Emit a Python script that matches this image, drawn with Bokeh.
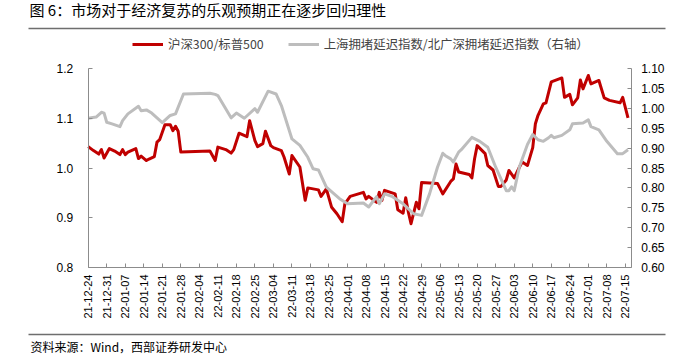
import pandas as pd
import numpy as np
from bokeh.plotting import figure
from bokeh.models import (Range1d, LinearAxis, DatetimeAxis, FixedTicker, DatetimeTickFormatter,
                          NumeralTickFormatter, Legend, LegendItem, Label, Arrow)
from bokeh.embed import file_html
from bokeh.resources import INLINE

title_text = "图 6：市场对于经济复苏的乐观预期正在逐步回归理性"
source_text = "资料来源：Wind，西部证券研发中心"
red_name = "沪深300/标普500"
gray_name = "上海拥堵延迟指数/北广深拥堵延迟指数（右轴）"

red_dates = [
    "2021-12-24", "2021-12-26", "2021-12-28", "2021-12-29", "2021-12-30", "2022-01-01",
    "2022-01-03", "2022-01-05", "2022-01-06", "2022-01-07", "2022-01-08", "2022-01-11",
    "2022-01-12", "2022-01-13", "2022-01-15", "2022-01-16", "2022-01-18", "2022-01-19",
    "2022-01-20", "2022-01-21", "2022-01-22", "2022-01-24", "2022-01-25", "2022-01-26",
    "2022-01-27", "2022-01-28", "2022-02-08", "2022-02-10", "2022-02-11", "2022-02-14",
    "2022-02-16", "2022-02-17", "2022-02-19", "2022-02-22", "2022-02-23", "2022-02-25",
    "2022-02-26", "2022-02-28", "2022-03-01", "2022-03-03", "2022-03-04", "2022-03-07",
    "2022-03-08", "2022-03-10", "2022-03-11", "2022-03-14", "2022-03-16", "2022-03-17",
    "2022-03-21", "2022-03-22", "2022-03-24", "2022-03-26", "2022-03-28", "2022-03-30",
    "2022-03-31", "2022-04-02", "2022-04-07", "2022-04-08", "2022-04-09", "2022-04-12",
    "2022-04-13", "2022-04-14", "2022-04-15", "2022-04-19", "2022-04-20", "2022-04-22",
    "2022-04-23", "2022-04-24", "2022-04-25", "2022-04-27", "2022-04-28", "2022-04-29",
    "2022-05-05", "2022-05-07", "2022-05-10", "2022-05-11", "2022-05-12", "2022-05-13",
    "2022-05-17", "2022-05-18", "2022-05-19", "2022-05-20", "2022-05-23", "2022-05-24",
    "2022-05-26", "2022-05-28", "2022-05-29", "2022-05-31", "2022-06-01", "2022-06-03",
    "2022-06-05", "2022-06-06", "2022-06-08", "2022-06-10", "2022-06-11", "2022-06-12",
    "2022-06-14", "2022-06-15", "2022-06-17", "2022-06-21", "2022-06-22", "2022-06-24",
    "2022-06-25", "2022-06-27", "2022-06-28", "2022-06-29", "2022-07-01", "2022-07-02",
    "2022-07-05", "2022-07-07", "2022-07-09", "2022-07-13", "2022-07-14", "2022-07-16",
]
red_values = [
    1.043, 1.035, 1.028, 1.037, 1.020, 1.039,
    1.034, 1.027, 1.037, 1.027, 1.032, 1.039,
    1.019, 1.024, 1.015, 1.018, 1.023, 1.052,
    1.057, 1.072, 1.087, 1.087, 1.075, 1.084,
    1.074, 1.032, 1.034, 1.015, 1.042, 1.037,
    1.030, 1.037, 1.070, 1.063, 1.095, 1.055,
    1.043, 1.049, 1.074, 1.045, 1.041, 1.035,
    1.022, 0.988, 1.025, 1.002, 0.935, 0.960,
    0.956, 0.943, 0.958, 0.921, 0.908, 0.892,
    0.928, 0.943, 0.951, 0.938, 0.943, 0.931,
    0.951, 0.935, 0.955, 0.948, 0.916, 0.909,
    0.940, 0.911, 0.888, 0.931, 0.918, 0.971,
    0.969, 0.948, 0.973, 0.978, 1.008, 0.992,
    0.987, 0.980, 1.018, 1.045, 1.029, 1.005,
    0.996, 0.963, 0.963, 0.976, 0.995, 0.980,
    1.002, 1.012, 1.005, 1.041, 1.089, 1.106,
    1.129, 1.131, 1.173, 1.181, 1.142, 1.148,
    1.127, 1.141, 1.177, 1.159, 1.186, 1.169,
    1.176, 1.141, 1.136, 1.131, 1.142, 1.101,
]

gray_dates = [
    "2021-12-24", "2021-12-27", "2021-12-29", "2021-12-30", "2021-12-31", "2022-01-02",
    "2022-01-05", "2022-01-06", "2022-01-08", "2022-01-12", "2022-01-13", "2022-01-15",
    "2022-01-17", "2022-01-19", "2022-01-21", "2022-01-24", "2022-01-26", "2022-01-29",
    "2022-02-08", "2022-02-10", "2022-02-11", "2022-02-16", "2022-02-18", "2022-02-21",
    "2022-02-25", "2022-02-26", "2022-03-02", "2022-03-05", "2022-03-07", "2022-03-11",
    "2022-03-14", "2022-03-17", "2022-03-19", "2022-03-21", "2022-03-24", "2022-03-29",
    "2022-04-01", "2022-04-07", "2022-04-09", "2022-04-12", "2022-04-13", "2022-04-15",
    "2022-04-18", "2022-04-22", "2022-04-26", "2022-04-29", "2022-05-02", "2022-05-05",
    "2022-05-07", "2022-05-08", "2022-05-10", "2022-05-11", "2022-05-13", "2022-05-14",
    "2022-05-18", "2022-05-21", "2022-05-24", "2022-05-27", "2022-05-31", "2022-06-01",
    "2022-06-02", "2022-06-03", "2022-06-05", "2022-06-08", "2022-06-10", "2022-06-12",
    "2022-06-14", "2022-06-16", "2022-06-17", "2022-06-18", "2022-06-21", "2022-06-24",
    "2022-06-25", "2022-06-29", "2022-07-01", "2022-07-02", "2022-07-05", "2022-07-08",
    "2022-07-12", "2022-07-14", "2022-07-16",
]
gray_values = [
    0.975, 0.978, 0.990, 0.988, 0.965, 0.961,
    0.954, 0.969, 0.986, 1.005, 0.994, 0.996,
    0.988, 0.976, 0.964, 0.982, 0.986, 1.036,
    1.038, 1.035, 1.032, 0.976, 0.988, 0.975,
    0.999, 0.990, 1.043, 1.036, 1.007, 0.923,
    0.907, 0.877, 0.848, 0.845, 0.802, 0.773,
    0.760, 0.762, 0.752, 0.778, 0.760, 0.785,
    0.778, 0.760, 0.735, 0.731, 0.785, 0.852,
    0.887, 0.881, 0.873, 0.865, 0.890, 0.896,
    0.927, 0.917, 0.902, 0.852, 0.793, 0.793,
    0.803, 0.793, 0.854, 0.909, 0.934, 0.921,
    0.917, 0.926, 0.932, 0.926, 0.932, 0.946,
    0.961, 0.963, 0.971, 0.954, 0.946, 0.917,
    0.886, 0.886, 0.896,
]

tick_dates = [
    "2021-12-24", "2021-12-31", "2022-01-07", "2022-01-14", "2022-01-21", "2022-01-28",
    "2022-02-04", "2022-02-11", "2022-02-18", "2022-02-25", "2022-03-04", "2022-03-11",
    "2022-03-18", "2022-03-25", "2022-04-01", "2022-04-08", "2022-04-15", "2022-04-22",
    "2022-04-29", "2022-05-06", "2022-05-13", "2022-05-20", "2022-05-27", "2022-06-03",
    "2022-06-10", "2022-06-17", "2022-06-24", "2022-07-01", "2022-07-08", "2022-07-15",
]
left_ticks = [0.8, 0.9, 1.0, 1.1, 1.2]
right_ticks = [0.60, 0.65, 0.70, 0.75, 0.80, 0.85, 0.90, 0.95, 1.00, 1.05, 1.10]

x_start, x_stop = "2021-12-24", "2022-07-17 05:00"
left_lim = (0.8, 1.2)
right_lim = (0.6, 1.1)

RED = "#C00000"
GRAY = "#BDBDBD"
AXIS = "#8C8C8C"
RULE = "#6E6E6E"
CJK = "Noto Sans CJK SC"
LAT = "Liberation Sans"

# canvas and plot-area pixel geometry (the frame covers the whole canvas;
# the axes are pinned at the edges of the plot area)
W, H = 685, 355
PL, PR, PT, PB = 87.7, 630.7, 68.0, 267.0


def ms(d):
    return pd.Timestamp(d).timestamp() * 1000.0


xs0, xs1 = ms(x_start), ms(x_stop)
kx = (xs1 - xs0) / (PR - PL)
x_range = Range1d(xs0 - PL * kx, xs1 + (W - PR) * kx)


def ext(lo, hi):
    k = (hi - lo) / (PB - PT)
    return Range1d(lo - (H - PB) * k, hi + PT * k)


p = figure(width=W, height=H, output_backend="svg", toolbar_location=None,
           x_axis_type=None, y_axis_type=None,
           x_range=x_range, y_range=ext(*left_lim),
           min_border_left=0, min_border_right=0, min_border_top=0, min_border_bottom=0)
p.extra_y_ranges = {"right": ext(*right_lim)}
p.outline_line_color = None
p.background_fill_color = "white"
p.border_fill_color = "white"
p.xgrid.visible = False
p.ygrid.visible = False

r1 = p.line([ms(d) for d in red_dates], red_values, line_color=RED, line_width=3,
            line_join="round")
r2 = p.line([ms(d) for d in gray_dates], gray_values, line_color=GRAY, line_width=3,
            line_join="round", y_range_name="right")


def style(ax, size):
    ax.major_tick_in = 4
    ax.major_tick_out = 0
    ax.minor_tick_line_color = None
    ax.axis_line_color = AXIS
    ax.major_tick_line_color = AXIS
    ax.major_label_text_font = LAT
    ax.major_label_text_font_size = size
    ax.major_label_text_color = "#000000"


fmt = "%y-%m-%d"
xa = DatetimeAxis(ticker=FixedTicker(ticks=[ms(d) for d in tick_dates]),
                  formatter=DatetimeTickFormatter(days=fmt, months=fmt, years=fmt, hours=fmt,
                                                  hourmin=fmt, minutes=fmt, minsec=fmt,
                                                  seconds=fmt, milliseconds=fmt,
                                                  microseconds=fmt, context=None),
                  fixed_location=left_lim[0], bounds=(xs0, xs1))
style(xa, "11px")
xa.major_label_orientation = np.pi / 2
xa.major_label_standoff = 7
p.add_layout(xa, "below")

ya = LinearAxis(ticker=FixedTicker(ticks=left_ticks), formatter=NumeralTickFormatter(format="0.0"),
                fixed_location=xs0, bounds=left_lim)
style(ya, "12px")
ya.major_label_standoff = 15
p.add_layout(ya, "left")

ra = LinearAxis(y_range_name="right", ticker=FixedTicker(ticks=right_ticks),
                formatter=NumeralTickFormatter(format="0.00"),
                fixed_location=xs1, bounds=right_lim)
style(ra, "12px")
ra.major_label_standoff = 10
p.add_layout(ra, "right")

legend = Legend(items=[LegendItem(label=red_name, renderers=[r1]),
                       LegendItem(label=gray_name, renderers=[r2])],
                orientation="horizontal", location=(132, H - 37 - 16),
                label_text_font=CJK, label_text_font_size="12.4px",
                glyph_width=31, glyph_height=16, label_height=16, label_standoff=5,
                spacing=24, padding=0, margin=0, border_line_color=None,
                background_fill_alpha=0)
p.add_layout(legend)

# title, rules and source (screen units; the frame is the whole canvas)
p.add_layout(Label(x=29, y=H - 9, x_units="screen", y_units="screen",
                   text=title_text, text_font=CJK, text_font_size="15px",
                   text_baseline="middle", text_color="#000000"))
p.add_layout(Arrow(end=None, x_start=28, y_start=H - 28, x_end=665, y_end=H - 28,
                   start_units="screen", end_units="screen",
                   line_color=RULE, line_width=1.5))
p.add_layout(Arrow(end=None, x_start=28, y_start=H - 334, x_end=665, y_end=H - 334,
                   start_units="screen", end_units="screen",
                   line_color=RULE, line_width=1.5))
p.add_layout(Label(x=30, y=H - 346, x_units="screen", y_units="screen",
                   text=source_text, text_font=CJK, text_font_size="12px",
                   text_baseline="middle", text_color="#000000"))

open("out.html", "w").write(file_html(p, INLINE))
